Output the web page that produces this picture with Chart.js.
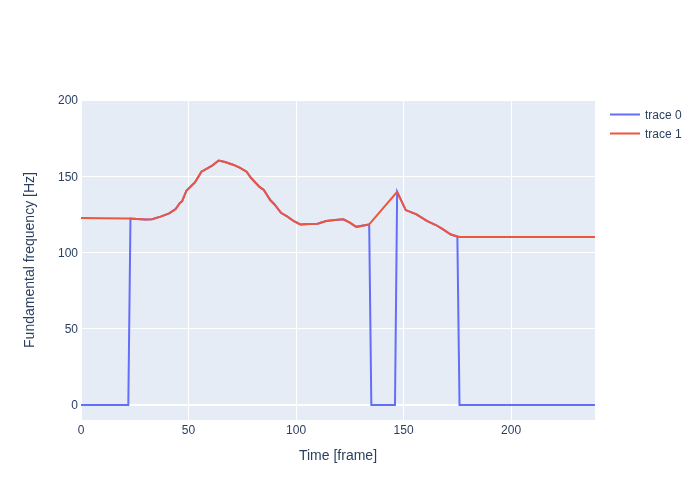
<!DOCTYPE html>
<html>
<head>
<meta charset="utf-8">
<script src="https://cdn.jsdelivr.net/npm/chart.js@4.4.1/dist/chart.umd.min.js"></script>
<style>
  html, body { margin: 0; padding: 0; background: #fff; }
  #wrap { width: 700px; height: 500px; }
</style>
</head>
<body>
<div id="wrap"><canvas id="pitchChart" width="700" height="500"></canvas></div>
<script>
// trace 0: raw f0 (0 = unvoiced)
const trace0Frames = [0, 22, 23, 26, 30, 33, 37, 41, 44, 46, 47, 49, 53, 56, 61, 64, 67, 71, 74, 77, 79, 83, 85, 88, 90, 93, 96, 99, 102, 106, 110, 114, 118, 122, 125, 128, 134, 135, 146, 147, 151, 156, 161, 165, 168, 172, 175, 176, 239];
const trace0Values = [0, 0, 122.3, 122, 121.6, 121.8, 123.5, 125.6, 128.5, 132.5, 133.5, 140.5, 146, 153, 157, 160.3, 159.3, 157.4, 155.5, 153, 149, 143, 141, 134.4, 131.5, 126, 123.5, 120.5, 118.4, 118.6, 118.8, 120.6, 121.3, 121.7, 119.5, 116.8, 118.4, 0, 0, 139.7, 127.8, 125, 120.6, 118, 115.5, 111.8, 110.5, 0, 0];

// trace 1: interpolated f0
const trace1Frames = [0, 10, 22, 26, 30, 33, 37, 41, 44, 46, 47, 49, 53, 56, 61, 64, 67, 71, 74, 77, 79, 83, 85, 88, 90, 93, 96, 99, 102, 106, 110, 114, 118, 122, 125, 128, 134, 147, 151, 156, 161, 165, 168, 172, 175, 176, 239];
const trace1Values = [122.6, 122.5, 122.3, 122, 121.6, 121.8, 123.5, 125.6, 128.5, 132.5, 133.5, 140.5, 146, 153, 157, 160.3, 159.3, 157.4, 155.5, 153, 149, 143, 141, 134.4, 131.5, 126, 123.5, 120.5, 118.4, 118.6, 118.8, 120.6, 121.3, 121.7, 119.5, 116.8, 118.4, 139.7, 127.8, 125, 120.6, 118, 115.5, 111.8, 110.5, 110.1, 110.1];

const xTicks = [0, 50, 100, 150, 200];
const yTicks = [0, 50, 100, 150, 200];

const FONT = '"Liberation Sans", Arial, sans-serif';
const INK = '#2a3f5f';

const toPoints = (xs, ys) => xs.map((x, i) => ({ x: x, y: ys[i] }));

const plotBg = {
  id: 'plotBg',
  beforeDraw(chart) {
    const a = chart.chartArea, c = chart.ctx;
    c.save();
    c.fillStyle = '#e5ecf6';
    c.fillRect(a.left, a.top, a.right - a.left, a.bottom - a.top);
    c.restore();
  }
};

const extras = {
  id: 'extras',
  afterDraw(chart) {
    const c = chart.ctx, a = chart.chartArea;
    c.save();
    c.fillStyle = INK;
    c.font = '14px ' + FONT;
    c.textAlign = 'center';
    c.textBaseline = 'middle';
    c.fillText('Time [frame]', (a.left + a.right) / 2, 456);
    c.translate(30, (a.top + a.bottom) / 2);
    c.rotate(-Math.PI / 2);
    c.fillText('Fundamental frequency [Hz]', 0, 0);
    c.restore();

    // legend
    c.save();
    c.font = '12px ' + FONT;
    c.textBaseline = 'middle';
    c.textAlign = 'left';
    chart.data.datasets.forEach((ds, i) => {
      const y = 114.5 + i * 19;
      c.strokeStyle = ds.borderColor;
      c.lineWidth = 2;
      c.beginPath();
      c.moveTo(610, y);
      c.lineTo(640, y);
      c.stroke();
      c.fillStyle = INK;
      c.fillText(ds.label, 645, y + 1);
    });
    c.restore();
  }
};

new Chart(document.getElementById('pitchChart'), {
  type: 'line',
  data: {
    datasets: [
      { label: 'trace 0', data: toPoints(trace0Frames, trace0Values), borderColor: '#636efa', borderWidth: 2, pointRadius: 0, tension: 0, fill: false, order: 1 },
      { label: 'trace 1', data: toPoints(trace1Frames, trace1Values), borderColor: '#EF553B', borderWidth: 2, pointRadius: 0, tension: 0, fill: false, order: 0 }
    ]
  },
  options: {
    responsive: false,
    animation: false,
    layout: { padding: { top: 100, right: 105, left: 0, bottom: 0 } },
    plugins: { legend: { display: false }, tooltip: { enabled: false } },
    scales: {
      x: {
        type: 'linear',
        min: 0,
        max: 239,
        afterFit: s => { s.height = 80; },
        afterBuildTicks: s => { s.ticks = xTicks.map(v => ({ value: v })); },
        grid: { color: '#ffffff', lineWidth: 1, drawTicks: false },
        border: { display: false },
        ticks: { color: INK, font: { family: FONT, size: 12 }, padding: 3, maxRotation: 0 }
      },
      y: {
        type: 'linear',
        min: -9.9,
        max: 200,
        afterFit: s => { s.width = 81; },
        afterBuildTicks: s => { s.ticks = yTicks.map(v => ({ value: v })); },
        grid: {
          color: '#ffffff',
          lineWidth: ctx => (ctx.tick && ctx.tick.value === 0 ? 2 : 1),
          drawTicks: false
        },
        border: { display: false },
        ticks: { color: INK, font: { family: FONT, size: 12 }, padding: 3, labelOffset: 1 }
      }
    }
  },
  plugins: [plotBg, extras]
});
</script>
</body>
</html>
